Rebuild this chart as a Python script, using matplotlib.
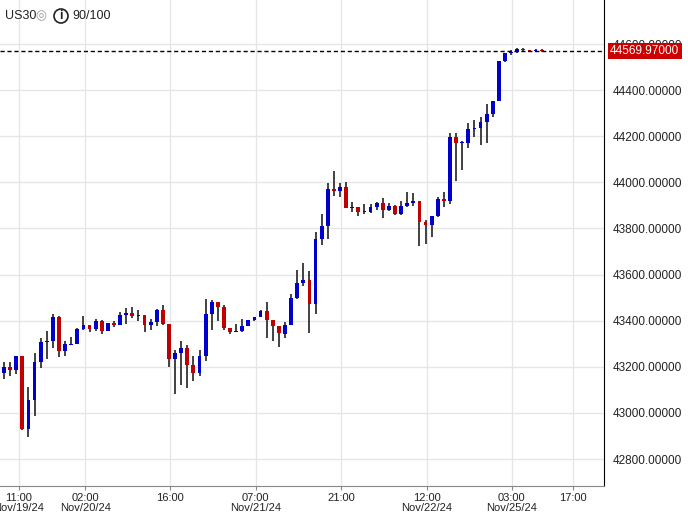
import matplotlib
matplotlib.use("Agg")
import matplotlib.pyplot as plt
from matplotlib.patches import Circle
import numpy as np

opens = [43171,43197,43186,43249,42932,43058,43223,43308,43310,43414,43267,43295,43297,43362,43380,43362,43397,43354,43388,43380,
         43423,43432,43420,43423,43380,43393,43445,43384,43232,43262,43280,43206,43175,43249,43428,43480,43458,43367,43351,43354,
         43375,43401,43414,43441,43401,43375,43344,43382,43500,43565,43578,43473,43753,43809,43971,43962,43980,43891,43893,43871,
         43871,43893,43910,43879,43897,43862,43897,43910,43919,43828,43814,43853,43927,43919,44198,44171,44172,44232,44237,44263,
         44298,44351,44525,44562,44564,44577,44573,44570,44575]
highs = [43219,43219,43249,43249,43112,43262,43323,43354,43428,43419,43310,43328,43367,43419,43380,43406,43401,43390,43397,43439,
         43454,43458,43445,43423,43406,43449,43467,43384,43275,43310,43293,43249,43275,43493,43488,43480,43467,43367,43384,43406,
         43401,43414,43445,43480,43401,43375,43395,43517,43622,43652,43617,43783,43862,43997,44049,43997,44001,43915,43893,43906,
         43906,43914,43932,43910,43901,43919,43958,43954,43919,43837,43853,43936,43958,44215,44215,44180,44259,44272,44285,44342,
         44355,44525,44560,44573,44582,44582,44573,44578,44577]
lows = [43146,43160,43168,42928,42894,42988,43193,43236,43280,43241,43245,43294,43297,43359,43349,43354,43341,43354,43371,43380,
        43384,43410,43400,43349,43358,43375,43380,43201,43084,43123,43110,43140,43162,43227,43358,43397,43358,43341,43351,43349,
        43375,43397,43414,43323,43314,43284,43327,43382,43492,43552,43347,43430,43727,43753,43940,43936,43888,43872,43853,43862,
        43866,43879,43844,43875,43857,43857,43892,43897,43722,43731,43761,43849,43892,43907,44006,44054,44150,44198,44163,44172,
        44285,44351,44521,44551,44560,44565,44566,44567,44567]
closes = [43197,43184,43249,42932,43058,43223,43306,43311,43414,43267,43297,43298,43362,43380,43362,43397,43354,43388,43380,43423,
          43432,43419,43423,43380,43393,43445,43384,43232,43262,43280,43206,43175,43249,43428,43480,43458,43367,43349,43354,43375,
          43401,43414,43441,43401,43375,43345,43382,43500,43565,43578,43473,43753,43809,43971,43962,43980,43888,43893,43871,43874,
          43893,43910,43879,43897,43862,43897,43910,43919,43828,43814,43853,43927,43919,44198,44172,44174,44233,44237,44263,44298,
          44351,44525,44560,44564,44577,44573,44570,44575,44569.97]
last_price = 44569.97
ytick_vals = [42800, 43000, 43200, 43400, 43600, 43800, 44000, 44200, 44400, 44600]
xtick_pos = [2.45, 13.3, 27.2, 41.2, 55.2, 69.2, 83.1, 93.1]
xtick_labels = ["11:00\nNov/19/24", "02:00\nNov/20/24", "16:00", "07:00\nNov/21/24", "21:00",
                "12:00\nNov/22/24", "03:00\nNov/25/24", "17:00"]

W, H = 688, 512
fig = plt.figure(figsize=(W/100, H/100), dpi=100)
ax = fig.add_axes([0, 1-486/H, 604/W, 486/H])
BLUE, RED = "#0000CC", "#C00000"
for i, (o, h, l, c) in enumerate(zip(opens, highs, lows, closes)):
    col = BLUE if c >= o else RED
    ax.vlines(i, l, h, color="#333333", lw=1.3, zorder=2)
    lo, hi = min(o, c), max(o, c)
    if hi - lo < 4:
        lo, hi = (lo+hi)/2 - 2, (lo+hi)/2 + 2
    ax.bar(i, hi-lo, bottom=lo, width=0.62, color=col, zorder=3, linewidth=0)

ax.set_xlim(-0.65, 98.2)
ax.set_ylim(42683, 44791)
ax.axhline(last_price, color="black", ls=(0, (3, 2)), lw=1, zorder=4)
ax.set_yticks(ytick_vals)
ax.set_xticks(xtick_pos)
ax.set_xticklabels(xtick_labels, fontsize=8, color="#222222", linespacing=1.0,
                   family="Liberation Sans")
ax.yaxis.tick_right()
ax.set_yticklabels([f"{v:.5f}" for v in ytick_vals], fontsize=8.5, color="#222222",
                   family="Liberation Sans")
ax.tick_params(axis="y", length=0, pad=6)
ax.tick_params(axis="x", length=3, pad=2, color="#888888")
ax.grid(True, color="#e6e6e6", lw=1, zorder=0)
for s in ["top", "left"]:
    ax.spines[s].set_visible(False)
ax.spines["right"].set_color("black")
ax.spines["bottom"].set_color("#888888")
ax.text(1.01, last_price, f"{last_price:.5f}", transform=ax.get_yaxis_transform(),
        va="center", ha="left", fontsize=8.5, color="white", family="Liberation Sans",
        bbox=dict(boxstyle="square,pad=0.2", fc="#CC0000", ec="none"), zorder=5)
fig.text(5/W, 1-16/H, "US30", fontsize=9, va="center", color="#222222", family="Liberation Sans")
fig.text(35/W, 1-16/H, "\u25CE", fontsize=9, va="center", color="#999999")
# info icon: circle with i
fig.patches.append(Circle((61/W, 1-16/H), 7/W, transform=fig.transFigure, fill=False,
                          ec="#222222", lw=1.2, aspect=None) if False else
                   matplotlib.patches.Ellipse((61/W, 1-16/H), 14/W, 14/H, transform=fig.transFigure,
                                              fill=False, ec="#222222", lw=1.2))
fig.text(61/W, 1-16/H, "i", fontsize=9, va="center", ha="center", color="#222222",
         family="Liberation Sans", weight="bold")
fig.text(72/W, 1-16/H, "90/100", fontsize=9, va="center", color="#222222", family="Liberation Sans")
fig.savefig("out.png", dpi=100)
